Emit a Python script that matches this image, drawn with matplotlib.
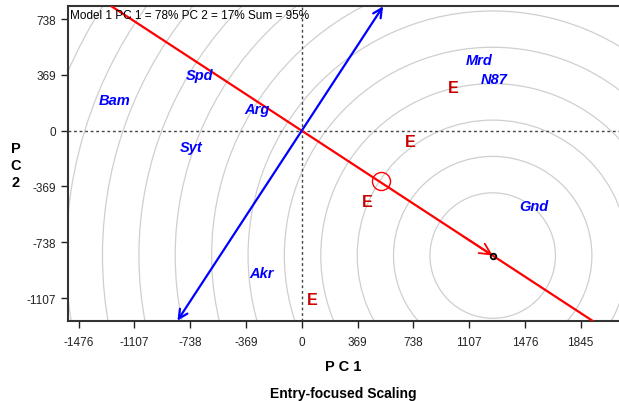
import numpy as np
import matplotlib
matplotlib.use("Agg")
import matplotlib.pyplot as plt
from matplotlib.patches import Circle

plt.rcParams['font.family'] = ['Liberation Sans', 'DejaVu Sans']
plt.rcParams['axes.unicode_minus'] = False

# genotype (entry) labels and biplot coordinates
entries = ["Bam", "Spd", "Arg", "Syt", "Akr", "Mrd", "N87", "Gnd"]
entry_x = [-1239, -679, -294, -734, -265, 1175, 1272, 1532]
entry_y = [203, 368, 144, -110, -941, 470, 342, -500]

# environment markers
env_x = [999, 716, 430, 70]
env_y = [287, -73, -467, -1118]

# ideal entry and average environment
ideal = (1263, -826)
mean_env = (522, -335)

# concentric rings around the ideal entry
ring_radii = [415, 656, 896, 1137, 1378, 1618, 1859, 2100, 2340, 2581, 2822, 3062, 3303]

ticks = [-1476, -1107, -738, -369, 0, 369, 738, 1107, 1476, 1845]
yticks = [-1107, -738, -369, 0, 369, 738]

xlim = (-1548, 2138)
ylim = (-1257, 823)


def main():
    fig = plt.figure(figsize=(6.19, 4.02), dpi=100)
    ax = fig.add_axes([67.7 / 619, (402 - 321.7) / 402, (625 - 67.7) / 619, (321.7 - 7.3) / 402])
    ax.set_xlim(*xlim)
    ax.set_ylim(*ylim)

    for r in ring_radii:
        ax.add_patch(Circle(ideal, r, fill=False, ec="#cfcfcf", lw=0.9, zorder=1))

    ax.axhline(0, color="#444444", ls=(0, (2, 2)), lw=1, zorder=2)
    ax.axvline(0, color="#444444", ls=(0, (2, 2)), lw=1, zorder=2)

    # average-environment axis (red) through origin and the ideal entry
    ax.axline((0, 0), ideal, color="red", lw=1.6, zorder=3)
    ax.annotate("", xy=ideal, xytext=(ideal[0] * 0.85, ideal[1] * 0.85),
                arrowprops=dict(arrowstyle="->", color="red", lw=1.3,
                                mutation_scale=20, shrinkA=0, shrinkB=0), zorder=4)

    # perpendicular axis (blue) with arrows at both ends
    px, py = -ideal[1], ideal[0]
    t_top = ylim[1] / py
    t_bot = ylim[0] / py
    ax.annotate("", xy=(px * t_top, py * t_top), xytext=(px * t_bot, py * t_bot),
                arrowprops=dict(arrowstyle="<->", color="blue", lw=1.6,
                                mutation_scale=16, shrinkA=0, shrinkB=0), zorder=3)

    ax.plot(*mean_env, marker="o", ms=13, mfc="none", mec="red", mew=1, zorder=5)
    ax.plot(*ideal, marker="o", ms=4, mfc="none", mec="black", mew=1.3, zorder=5)

    for name, x, y in zip(entries, entry_x, entry_y):
        ax.text(x, y, name, color="blue", fontsize=10.5, fontweight="bold",
                fontstyle="italic", ha="center", va="center", zorder=6)
    for x, y in zip(env_x, env_y):
        ax.text(x, y, "E", color="#c80000", fontsize=11.5, fontweight="bold",
                ha="center", va="center", zorder=6)

    ax.text(0.004, 0.992, "Model 1 PC 1 = 78% PC 2 = 17% Sum = 95%",
            transform=ax.transAxes, fontsize=8.5, va="top", ha="left", zorder=7)

    ax.set_xticks(ticks)
    ax.set_yticks(yticks)
    ax.tick_params(direction="out", length=5, width=1, labelsize=8.5, colors="#222222")
    ax.tick_params(axis="x", pad=6)
    for s in ["left", "bottom", "top"]:
        ax.spines[s].set_linewidth(1.5)
        ax.spines[s].set_color("#333333")
    ax.spines["right"].set_visible(False)

    fig.text(343 / 619, 1 - 367 / 402, "P C 1", fontsize=10.5, fontweight="bold",
             ha="center", va="center")
    fig.text(343 / 619, 1 - 394 / 402, "Entry-focused Scaling", fontsize=10,
             fontweight="bold", ha="center", va="center")
    fig.text(16 / 619, 1 - 166 / 402, "P\nC\n2", fontsize=10.5, fontweight="bold",
             ha="center", va="center", linespacing=1.25)

    fig.savefig("out.png", dpi=100)


if __name__ == '__main__':
    main()
